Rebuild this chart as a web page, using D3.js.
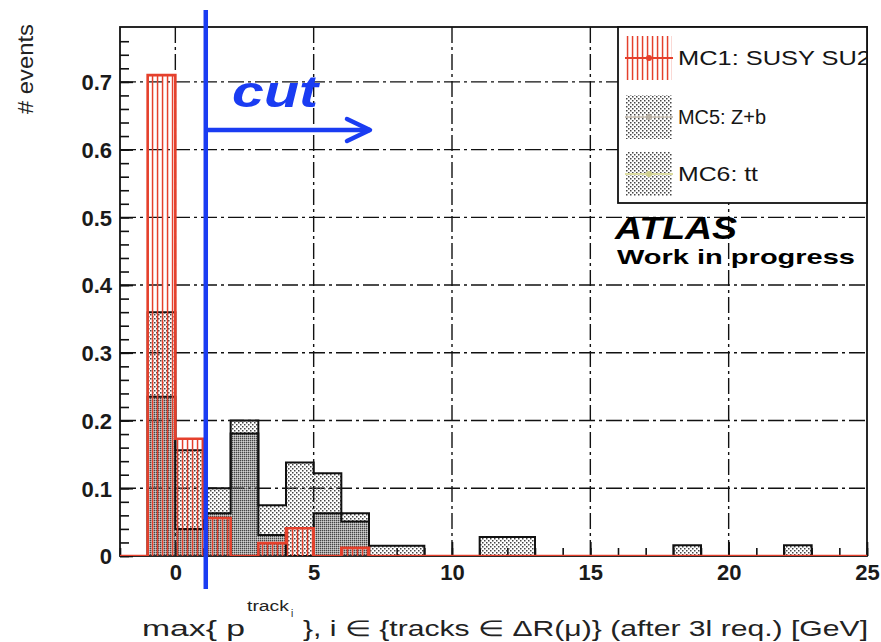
<!DOCTYPE html>
<html>
<head>
<meta charset="utf-8">
<script src="https://cdn.jsdelivr.net/npm/d3@7"></script>
<style>
  body { margin: 0; background: #fff; }
  svg { display: block; font-family: "Liberation Sans", Arial, Helvetica, sans-serif; }
</style>
</head>
<body>
<svg id="chart" width="881" height="642"></svg>
<script>
// Histogram binning: 27 bins of 1 GeV from -2 to 25
const binEdges = [-2, -1, 0, 1, 2, 3, 4, 5, 6, 7, 8, 9, 10, 11, 12, 13, 14, 15, 16, 17, 18, 19, 20, 21, 22, 23, 24, 25];

// Normalised event fractions per bin
const susySU2 = [0, 0.71, 0.173, 0.056, 0, 0.019, 0.041, 0, 0.012, 0, 0, 0, 0, 0, 0, 0, 0, 0, 0, 0, 0, 0, 0, 0, 0, 0, 0];
const zPlusB  = [0, 0.235, 0.04, 0.063, 0.181, 0.031, 0, 0.063, 0.051, 0, 0, 0, 0, 0, 0, 0, 0, 0, 0, 0, 0, 0, 0, 0, 0, 0, 0];
const ttbar   = [0, 0.36, 0.156, 0.1, 0.2, 0.075, 0.138, 0.122, 0.063, 0.015, 0.015, 0, 0, 0.028, 0.028, 0, 0, 0, 0, 0, 0.016, 0, 0, 0, 0.016, 0, 0];

const xTickValues = [0, 5, 10, 15, 20, 25];
const xTickLabels = ["0", "5", "10", "15", "20", "25"];
const yTickValues = [0, 0.1, 0.2, 0.3, 0.4, 0.5, 0.6, 0.7];
const yTickLabels = ["0", "0.1", "0.2", "0.3", "0.4", "0.5", "0.6", "0.7"];
const legendLabels = ["MC1: SUSY SU2", "MC5: Z+b", "MC6: tt"];
const cutValue = 1.1;
const yMax = 0.781;

const svg = d3.select("#chart");
const frame = { left: 120, right: 867, top: 27, bottom: 556 };

const x = d3.scaleLinear().domain([binEdges[0], binEdges[binEdges.length - 1]]).range([frame.left, frame.right]);
const y = d3.scaleLinear().domain([0, yMax]).range([frame.bottom, frame.top]);

const RED = "#e5402c";
const BLUE = "#1a3cf2";

// ---- fill patterns ----
const defs = svg.append("defs");
const redHatch = defs.append("pattern").attr("id", "redHatch")
  .attr("patternUnits", "userSpaceOnUse").attr("width", 5).attr("height", 8);
redHatch.append("rect").attr("x", 1.8).attr("y", 0).attr("width", 1.5).attr("height", 8).attr("fill", RED);

function dotPattern(id, offsets) {
  const p = defs.append("pattern").attr("id", id)
    .attr("patternUnits", "userSpaceOnUse").attr("width", 4).attr("height", 4);
  offsets.forEach(([ox, oy]) => {
    p.append("rect").attr("x", ox).attr("y", oy).attr("width", 1.5).attr("height", 1.5).attr("fill", "#444");
  });
}
dotPattern("dotsA", [[0, 0], [2, 2]]);
dotPattern("dotsB", [[2, 0], [0, 2]]);

defs.append("clipPath").attr("id", "frameClip").append("rect")
  .attr("x", frame.left).attr("y", frame.top)
  .attr("width", frame.right - frame.left).attr("height", frame.bottom - frame.top);

// ---- grid ----
const gridDash = "16,4,3,4";
const grid = svg.append("g");
grid.selectAll("line.gx").data(xTickValues.filter(v => v < 25)).join("line")
  .attr("x1", d => x(d)).attr("x2", d => x(d))
  .attr("y1", frame.top).attr("y2", frame.bottom)
  .attr("stroke", "#111").attr("stroke-width", 1.4).attr("stroke-dasharray", gridDash);
grid.selectAll("line.gy").data(yTickValues.filter(v => v > 0)).join("line")
  .attr("x1", frame.left).attr("x2", frame.right)
  .attr("y1", d => y(d)).attr("y2", d => y(d))
  .attr("stroke", "#111").attr("stroke-width", 1.4).attr("stroke-dasharray", gridDash);

// ---- frame ----
svg.append("rect")
  .attr("x", frame.left).attr("y", frame.top)
  .attr("width", frame.right - frame.left).attr("height", frame.bottom - frame.top)
  .attr("fill", "none").attr("stroke", "#111").attr("stroke-width", 1.8);

// ---- ticks (inward) ----
const yMinor = svg.append("g").attr("transform", `translate(${frame.left},0)`)
  .call(d3.axisLeft(y).tickValues(d3.range(0, 0.78, 0.02)).tickSize(-9).tickFormat(""));
const yMajor = svg.append("g").attr("transform", `translate(${frame.left},0)`)
  .call(d3.axisLeft(y).tickValues(yTickValues).tickSize(-13).tickPadding(21)
    .tickFormat((d, i) => yTickLabels[i]));
const xMinor = svg.append("g").attr("transform", `translate(0,${frame.bottom})`)
  .call(d3.axisBottom(x).tickValues(binEdges).tickSize(-8).tickFormat(""));
const xMajor = svg.append("g").attr("transform", `translate(0,${frame.bottom})`)
  .call(d3.axisBottom(x).tickValues(xTickValues).tickSize(-14).tickPadding(24)
    .tickFormat((d, i) => xTickLabels[i]));
[yMinor, yMajor, xMinor, xMajor].forEach(g => {
  g.select(".domain").remove();
  g.selectAll(".tick line").attr("stroke", "#111").attr("stroke-width", 1.6);
});
[yMajor, xMajor].forEach(g => {
  g.selectAll(".tick text")
    .attr("font-family", "'Liberation Sans', Arial, sans-serif")
    .attr("font-size", 22).attr("font-weight", "bold").attr("fill", "#1a1a1a");
});
yMajor.selectAll(".tick text").attr("x", -8).attr("dy", "0.36em");
xMajor.selectAll(".tick text").attr("y", 8).attr("dy", "0.71em");

// ---- histograms ----
function stepPoints(values) {
  return binEdges.map((e, i) => [e, values[Math.min(i, values.length - 1)]]);
}
const area = d3.area().curve(d3.curveStepAfter)
  .x(d => x(d[0])).y0(y(0)).y1(d => y(d[1]));
const outline = d3.line().curve(d3.curveStepAfter)
  .x(d => x(d[0])).y(d => y(d[1]));
const outlinePts = v => [[binEdges[0], 0], ...stepPoints(v), [binEdges[binEdges.length - 1], 0]];

const hists = svg.append("g").attr("clip-path", "url(#frameClip)");
function drawHist(values, fill, stroke, width) {
  hists.append("path").attr("d", area(stepPoints(values))).attr("fill", fill);
  hists.append("path").attr("d", outline(outlinePts(values)))
    .attr("fill", "none").attr("stroke", stroke).attr("stroke-width", width)
    .attr("stroke-linejoin", "miter");
}
drawHist(ttbar, "url(#dotsA)", "#111", 2);
drawHist(zPlusB, "url(#dotsB)", "#111", 2);
drawHist(susySU2, "url(#redHatch)", RED, 2.6);

// ---- legend ----
const leg = { x0: 618, y0: frame.top, x1: frame.right, y1: 203 };
defs.append("clipPath").attr("id", "legClip").append("rect")
  .attr("x", leg.x0).attr("y", leg.y0).attr("width", leg.x1 - leg.x0).attr("height", leg.y1 - leg.y0);
const legend = svg.append("g");
legend.append("rect")
  .attr("x", leg.x0).attr("y", leg.y0).attr("width", leg.x1 - leg.x0).attr("height", leg.y1 - leg.y0)
  .attr("fill", "#fff").attr("stroke", "#111").attr("stroke-width", 1.8);
const legRows = [
  { label: legendLabels[0], cy: 58, fill: "url(#redHatch)", line: RED, marker: RED, len: 193 },
  { label: legendLabels[1], cy: 117, fill: "url(#dotsA)", line: "#c9c2b8", marker: "#b8b0a4", len: 88 },
  { label: legendLabels[2], cy: 174, fill: "url(#dotsA)", line: "#dcdca0", marker: "#cfcf8c", len: 80 }
];
const rows = legend.selectAll("g.row").data(legRows).join("g").attr("clip-path", "url(#legClip)");
rows.append("rect").attr("x", 626).attr("width", 46)
  .attr("y", d => d.cy - 22).attr("height", 44).attr("fill", d => d.fill);
rows.append("line").attr("x1", 625).attr("x2", 673)
  .attr("y1", d => d.cy).attr("y2", d => d.cy)
  .attr("stroke", d => d.line).attr("stroke-width", 2);
rows.append("circle").attr("cx", 649).attr("cy", d => d.cy).attr("r", 3).attr("fill", d => d.marker);
rows.append("text").attr("x", 678).attr("y", d => d.cy + 7)
  .attr("font-size", 20).attr("fill", "#151515")
  .attr("textLength", d => d.len).attr("lengthAdjust", "spacingAndGlyphs")
  .text(d => d.label);

// ---- ATLAS label ----
svg.append("text").attr("x", 615).attr("y", 239)
  .attr("font-size", 32).attr("font-weight", "bold").attr("font-style", "italic").attr("fill", "#000")
  .attr("textLength", 122).attr("lengthAdjust", "spacingAndGlyphs").text("ATLAS");
svg.append("text").attr("x", 617).attr("y", 264)
  .attr("font-size", 21).attr("font-weight", "bold").attr("fill", "#000")
  .attr("textLength", 238).attr("lengthAdjust", "spacingAndGlyphs").text("Work in progress");

// ---- axis titles ----
svg.append("text").attr("transform", "translate(33,69) rotate(-90)")
  .attr("text-anchor", "middle").attr("font-size", 22).attr("fill", "#222")
  .attr("textLength", 90).attr("lengthAdjust", "spacingAndGlyphs").text("# events");

const xt = svg.append("g").attr("fill", "#222");
xt.append("text").attr("x", 142).attr("y", 636).attr("font-size", 22)
  .attr("textLength", 103).attr("lengthAdjust", "spacingAndGlyphs").text("max{ p");
xt.append("text").attr("x", 247).attr("y", 611).attr("font-size", 14)
  .attr("textLength", 42).attr("lengthAdjust", "spacingAndGlyphs").text("track");
xt.append("text").attr("x", 291).attr("y", 617).attr("font-size", 10).text("i");
xt.append("text").attr("x", 303).attr("y", 636).attr("font-size", 22)
  .attr("textLength", 565).attr("lengthAdjust", "spacingAndGlyphs")
  .text("}, i \u2208 {tracks \u2208 \u0394R(\u03bc)} (after 3l req.) [GeV]");

// ---- cut marker ----
const cutX = x(cutValue);
svg.append("line").attr("x1", cutX).attr("x2", cutX).attr("y1", 10).attr("y2", 589)
  .attr("stroke", BLUE).attr("stroke-width", 4.5);
svg.append("line").attr("x1", cutX).attr("x2", 370).attr("y1", 130).attr("y2", 130)
  .attr("stroke", BLUE).attr("stroke-width", 4.5);
svg.append("path").attr("d", `M347,119 L370,130 L347,141`)
  .attr("fill", "none").attr("stroke", BLUE).attr("stroke-width", 4.5)
  .attr("stroke-linecap", "round").attr("stroke-linejoin", "round");
svg.append("text").attr("x", 232).attr("y", 107)
  .attr("font-size", 44).attr("font-weight", "bold").attr("font-style", "italic").attr("fill", BLUE)
  .attr("textLength", 86).attr("lengthAdjust", "spacingAndGlyphs").text("cut");
</script>
</body>
</html>
